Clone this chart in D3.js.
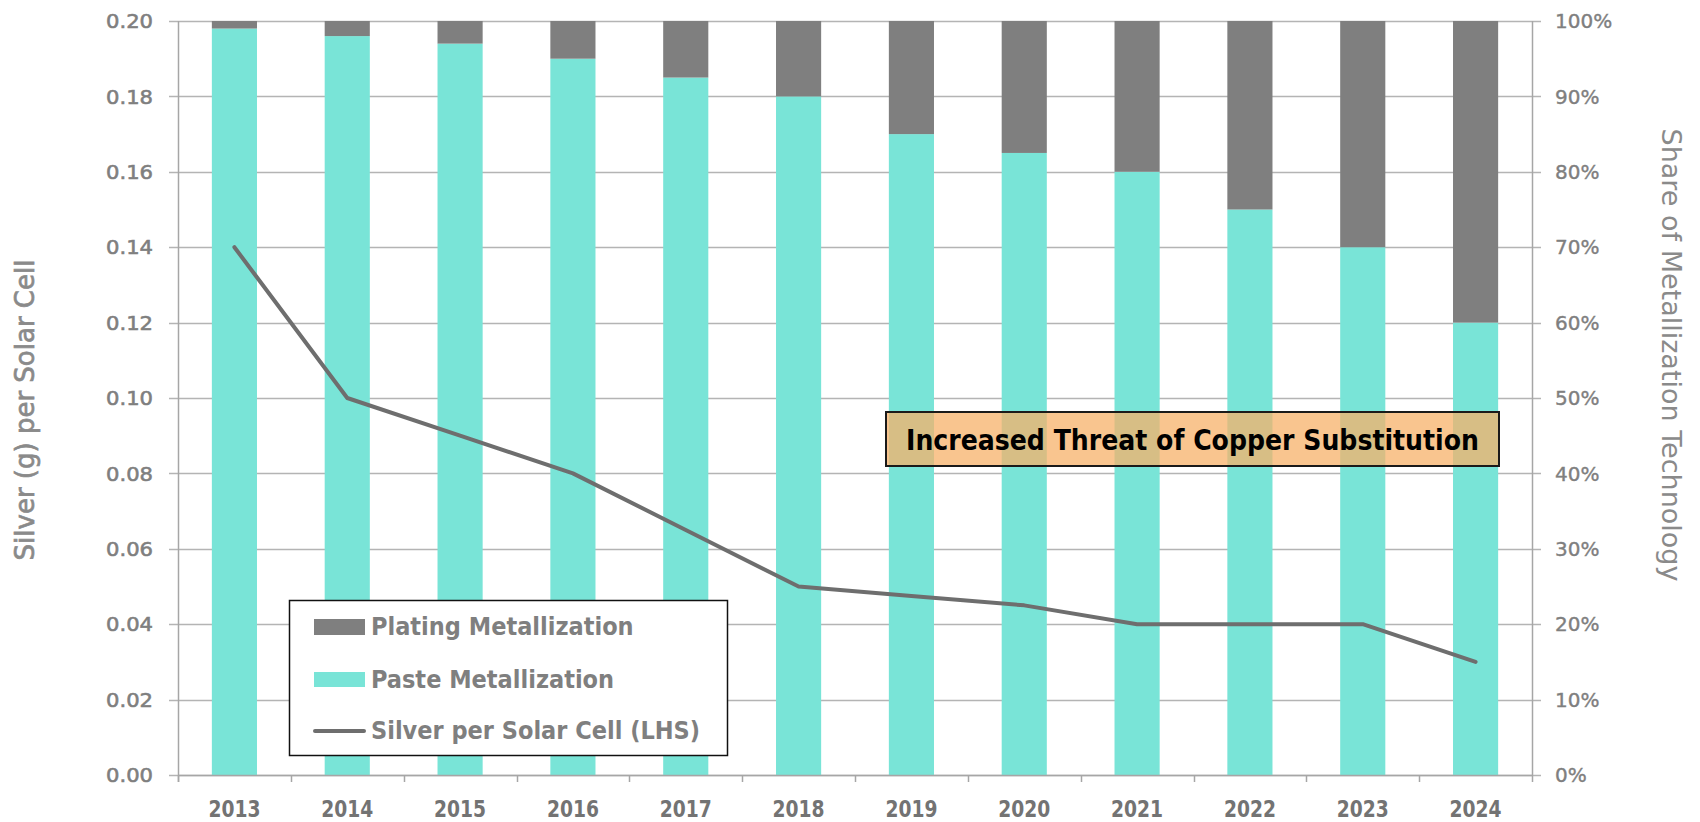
<!DOCTYPE html>
<html>
<head>
<meta charset="utf-8">
<script src="https://cdn.jsdelivr.net/npm/d3@7"></script>
<style>
  html, body { margin: 0; padding: 0; background: #fff; }
  svg { display: block; }
</style>
</head>
<body>
<svg id="chart" width="1700" height="822"></svg>
<script>
// ---------- DATA ----------
const years = ["2013","2014","2015","2016","2017","2018","2019","2020","2021","2022","2023","2024"];
const pastePct   = [99, 98, 97, 95, 92.5, 90, 85, 82.5, 80, 75, 70, 60];
const platingPct = [1, 2, 3, 5, 7.5, 10, 15, 17.5, 20, 25, 30, 40];
const silverPerCell = [0.14, 0.10, 0.09, 0.08, 0.065, 0.05, 0.0475, 0.045, 0.04, 0.04, 0.04, 0.03];
const leftTicks  = [0, 0.02, 0.04, 0.06, 0.08, 0.10, 0.12, 0.14, 0.16, 0.18, 0.20];
const rightTicks = [0, 10, 20, 30, 40, 50, 60, 70, 80, 90, 100];
const seriesNames = ["Plating Metallization", "Paste Metallization", "Silver per Solar Cell (LHS)"];
const leftTitle  = "Silver (g) per Solar Cell";
const rightTitle = "Share of Metallization Technology";
const annotationText = "Increased Threat of Copper Substitution";

// ---------- STYLE ----------
const COL_PASTE = "#79E4D7";
const COL_PLATING = "#7F7F7F";
const COL_LINE = "#6E6E6E";
const COL_GRID = "#B4B4B4";
const COL_TEXT = "#7F7F7F";
const FONT = "'DejaVu Sans', Verdana, sans-serif";
const FONT_COND = "'DejaVu Sans Condensed', 'DejaVu Sans', sans-serif";

const svg = d3.select("#chart");
svg.append("rect").attr("width", 1700).attr("height", 822).attr("fill", "#fff");

const X0 = 178, X1 = 1532, Y0 = 775, Y1 = 21;

const x = d3.scaleBand().domain(years).range([X0, X1]).paddingInner(0.6).paddingOuter(0.3);
const xOuter = d3.scaleBand().domain(years).range([X0, X1]).padding(0);
const yL = d3.scaleLinear().domain([0, 0.2]).range([Y0, Y1]);
const yR = d3.scaleLinear().domain([0, 100]).range([Y0, Y1]);

function fit(sel, target) {
  sel.each(function () {
    const L = this.getComputedTextLength();
    if (L > 0 && Math.abs(L - target) / target > 0.02) {
      d3.select(this).attr("textLength", target).attr("lengthAdjust", "spacingAndGlyphs");
    }
  });
}

// gridlines
svg.append("g").selectAll("line").data(leftTicks).join("line")
  .attr("x1", X0 - 9).attr("x2", X1 + 9)
  .attr("y1", d => Math.round(yL(d)) + 0.5).attr("y2", d => Math.round(yL(d)) + 0.5)
  .attr("stroke", COL_GRID).attr("stroke-width", 1.5);

// bars: paste (bottom) + plating (top)
const bars = svg.append("g");
bars.selectAll("rect.paste").data(years).join("rect").attr("class", "paste")
  .attr("x", d => x(d)).attr("width", x.bandwidth())
  .attr("y", (d, i) => yR(pastePct[i])).attr("height", (d, i) => yR(0) - yR(pastePct[i]))
  .attr("fill", COL_PASTE);
bars.selectAll("rect.plating").data(years).join("rect").attr("class", "plating")
  .attr("x", d => x(d)).attr("width", x.bandwidth())
  .attr("y", (d, i) => yR(pastePct[i] + platingPct[i])).attr("height", (d, i) => yR(pastePct[i]) - yR(pastePct[i] + platingPct[i]))
  .attr("fill", COL_PLATING);

// axes lines
const axes = svg.append("g").attr("stroke", "#A6A6A6").attr("stroke-width", 1.5);
axes.append("line").attr("x1", X0 + 0.5).attr("x2", X0 + 0.5).attr("y1", Y1).attr("y2", Y0 + 7);
axes.append("line").attr("x1", X1 + 0.5).attr("x2", X1 + 0.5).attr("y1", Y1).attr("y2", Y0 + 7);
axes.append("line").attr("x1", X0).attr("x2", X1).attr("y1", Math.round(Y0) + 0.5).attr("y2", Math.round(Y0) + 0.5);
axes.selectAll("line.xt").data(years).join("line").attr("class", "xt")
  .attr("x1", d => Math.round(xOuter(d)) + 0.5).attr("x2", d => Math.round(xOuter(d)) + 0.5)
  .attr("y1", Y0).attr("y2", Y0 + 7);

// line series
const line = d3.line().x((d, i) => x(years[i]) + x.bandwidth() / 2).y(d => yL(d));
svg.append("path").datum(silverPerCell).attr("d", line)
  .attr("fill", "none").attr("stroke", COL_LINE).attr("stroke-width", 4)
  .attr("stroke-linejoin", "round").attr("stroke-linecap", "round");

// left tick labels
svg.append("g").selectAll("text").data(leftTicks).join("text")
  .attr("x", 153).attr("y", d => yL(d)).attr("dy", "0.36em")
  .attr("text-anchor", "end").attr("font-family", FONT).attr("font-size", 20)
  .attr("fill", COL_TEXT).attr("stroke", COL_TEXT).attr("stroke-width", 0.6)
  .text(d => d3.format(".2f")(d)).call(fit, 47);

// right tick labels
svg.append("g").selectAll("text").data(rightTicks).join("text")
  .attr("x", 1555).attr("y", d => yR(d)).attr("dy", "0.36em")
  .attr("text-anchor", "start").attr("font-family", FONT).attr("font-size", 20)
  .attr("fill", COL_TEXT).attr("stroke", COL_TEXT).attr("stroke-width", 0.4)
  .text(d => d + "%");

// year labels
svg.append("g").selectAll("text").data(years).join("text")
  .attr("x", d => x(d) + x.bandwidth() / 2).attr("y", 816.5)
  .attr("text-anchor", "middle").attr("font-family", FONT_COND).attr("font-stretch", "condensed")
  .attr("font-weight", "bold").attr("font-size", 23)
  .attr("fill", "#737373").text(d => d)
  .call(fit, 52);

// axis titles
svg.append("text").attr("transform", "translate(34,410) rotate(-90)")
  .attr("text-anchor", "middle").attr("font-family", FONT).attr("font-size", 26)
  .attr("fill", "#8A8A8A").attr("stroke", "#8A8A8A").attr("stroke-width", 0.7)
  .text(leftTitle).call(fit, 303);
svg.append("text").attr("transform", "translate(1662,355) rotate(90)")
  .attr("text-anchor", "middle").attr("font-family", FONT).attr("font-size", 27)
  .attr("fill", "#8A8A8A").text(rightTitle).call(fit, 454);

// legend
const lg = svg.append("g");
lg.append("rect").attr("x", 289.5).attr("y", 600.5).attr("width", 438).attr("height", 155)
  .attr("fill", "#fff").attr("stroke", "#111").attr("stroke-width", 1.5);
lg.append("rect").attr("x", 314).attr("y", 619).attr("width", 51).attr("height", 16).attr("fill", COL_PLATING);
lg.append("rect").attr("x", 314).attr("y", 672).attr("width", 51).attr("height", 15).attr("fill", COL_PASTE);
lg.append("line").attr("x1", 315).attr("x2", 364).attr("y1", 731).attr("y2", 731)
  .attr("stroke", COL_LINE).attr("stroke-width", 4).attr("stroke-linecap", "round");
const legendWidths = [263, 244, 331];
const legendBase = [635, 688, 739];
lg.selectAll("text").data(seriesNames).join("text")
  .attr("x", 371).attr("y", (d, i) => legendBase[i])
  .attr("font-family", FONT_COND).attr("font-stretch", "condensed").attr("font-weight", "bold")
  .attr("font-size", 25).attr("fill", COL_TEXT).text(d => d)
  .each(function (d, i) { d3.select(this).call(fit, legendWidths[i]); });

// annotation
const an = svg.append("g");
an.append("rect").attr("x", 886).attr("y", 412).attr("width", 613).attr("height", 54)
  .attr("fill", "#F7B26A").attr("fill-opacity", 0.75)
  .attr("stroke", "#1A1A1A").attr("stroke-width", 2);
an.append("text").attr("x", 1192.5).attr("y", 450)
  .attr("text-anchor", "middle").attr("font-family", FONT_COND).attr("font-stretch", "condensed")
  .attr("font-weight", "bold").attr("font-size", 28).attr("fill", "#000")
  .text(annotationText).call(fit, 573);
</script>
</body>
</html>
